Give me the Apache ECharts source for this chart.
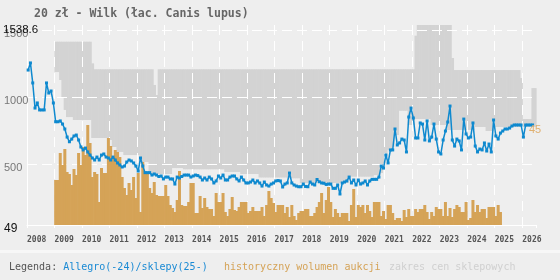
<!DOCTYPE html>
<html lang="pl">
<head>
<meta charset="utf-8">
<title>20 zł - Wilk</title>
<script src="https://cdn.jsdelivr.net/npm/echarts@6/dist/echarts.min.js"></script>
<style>
  html, body { margin: 0; padding: 0; background: #eeeeee; }
  #main { width: 560px; height: 280px; }
</style>
</head>
<body>
<div id="main"></div>
<script>
// ceny miesięczne (Allegro do 2024, sklepy od 2025), od 2008-01
var priceFrom = 2008;
var price = [
  1203, 1256, 1107, 920, 958, 906, 906, 906, 1107, 1032, 1047, 958,   // 2008
  818, 818, 824, 801, 764, 704, 669, 689, 712, 719, 682, 630,         // 2009
  608, 622, 593, 570, 548, 533, 555, 533, 570, 578, 555, 548,         // 2010
  533, 555, 533, 511, 496, 481, 488, 518, 533, 526, 511, 488,         // 2011
  451, 548, 488, 439, 439, 439, 421, 429, 421, 410, 414, 392,         // 2012
  406, 406, 392, 392, 354, 406, 399, 410, 421, 421, 421, 406,         // 2013
  414, 421, 417, 406, 384, 399, 384, 406, 392, 362, 377, 414,         // 2014
  399, 421, 384, 384, 406, 414, 414, 392, 377, 406, 384, 362,         // 2015
  362, 369, 384, 362, 377, 362, 339, 369, 347, 339, 354, 362,         // 2016
  377, 380, 377, 332, 354, 362, 436, 362, 347, 339, 334, 334,         // 2017
  354, 336, 334, 369, 354, 347, 388, 371, 362, 360, 351, 354,         // 2018
  354, 322, 322, 347, 280, 362, 369, 377, 406, 362, 384, 347,         // 2019
  384, 354, 362, 377, 347, 377, 389, 389, 389, 406, 488, 473,         // 2020
  570, 511, 608, 608, 764, 645, 660, 689, 682, 593, 853, 920,         // 2021
  846, 697, 697, 809, 801, 682, 824, 675, 704, 801, 689, 593,         // 2022
  578, 682, 749, 816, 935, 682, 637, 689, 675, 608, 838, 727,         // 2023
  697, 704, 809, 637, 593, 615, 608, 660, 600, 652, 593, 831,         // 2024
  712, 689, 734, 749, 764, 764, 771, 786, 794, 794, 794, 794,         // 2025
  704, 794, 794, 794, 794                                             // 2026
];

// wolumen aukcji, od 2009-01
var volumeFrom = 2009;
var volume = [
  45, 45, 72, 60, 76, 53, 51, 40, 56, 50, 72, 60,    // 2009
  78, 70, 100, 82, 48, 53, 51, 23, 57, 52, 52, 87,   // 2010
  79, 68, 75, 73, 68, 48, 37, 30, 42, 35, 48, 27,    // 2011
  52, 13, 63, 52, 52, 37, 32, 43, 30, 29, 29, 29,    // 2012
  40, 29, 20, 17, 13, 25, 54, 20, 19, 19, 23, 42,    // 2013
  42, 12, 12, 29, 17, 27, 18, 16, 16, 9, 32, 23,     // 2014
  23, 32, 13, 9, 16, 28, 15, 14, 18, 23, 23, 23,     // 2015
  12, 14, 18, 14, 14, 14, 18, 9, 20, 34, 27, 22,     // 2016
  13, 20, 20, 20, 12, 18, 8, 20, 9, 5, 12, 14,       // 2017
  14, 16, 16, 9, 9, 12, 18, 23, 32, 12, 25, 38,      // 2018
  23, 8, 16, 12, 8, 12, 12, 12, 4, 20, 36, 8,        // 2019
  20, 18, 20, 12, 20, 14, 8, 23, 23, 23, 9, 14,      // 2020
  6, 20, 20, 12, 5, 7, 7, 4, 15, 8, 16, 9,           // 2021
  9, 16, 13, 16, 16, 20, 13, 6, 13, 9, 18, 16,       // 2022
  16, 9, 23, 9, 17, 8, 16, 20, 18, 13, 13, 23,       // 2023
  5, 7, 25, 13, 20, 13, 16, 16, 7, 18, 18, 18,       // 2024
  9, 20, 13                                          // 2025
];

// zakres cen sklepowych (min / max), od 2009-01
var shopFrom = 2009;
var shopLow = [
  1188, 1188, 1129, 1002, 906, 853, 853, 853, 831, 831, 831, 831,   // 2009
  831, 831, 831, 831, 697, 697, 697, 697, 697, 697, 697, 682,       // 2010
  682, 630, 630, 593, 593, 593, 570, 570, 570, 570, 570, 570,       // 2011
  570, 518, 518, 518, 518, 429, 429, 429, 429, 429, 429, 429,       // 2012
  429, 429, 429, 473, 473, 473, 473, 473, 464, 464, 464, 464,       // 2013
  464, 464, 464, 464, 464, 464, 464, 464, 464, 464, 464, 464,       // 2014
  464, 464, 444, 444, 444, 444, 444, 444, 444, 429, 429, 429,       // 2015
  429, 429, 429, 429, 429, 403, 403, 403, 403, 403, 403, 403,       // 2016
  403, 403, 403, 403, 403, 403, 397, 397, 397, 397, 397, 362,       // 2017
  362, 362, 362, 362, 362, 362, 362, 362, 362, 362, 362, 362,       // 2018
  362, 362, 362, 362, 362, 362, 362, 362, 409, 409, 409, 409,       // 2019
  409, 409, 409, 409, 409, 409, 409, 421, 421, 421, 436, 511,       // 2020
  548, 608, 608, 632, 719, 719, 900, 900, 900, 900, 794, 794,       // 2021
  794, 838, 838, 838, 838, 838, 838, 838, 794, 794, 794, 794,       // 2022
  794, 794, 794, 757, 757, 757, 757, 757, 757, 757, 757, 757,       // 2023
  757, 757, 757, 779, 779, 779, 779, 779, 749, 749, 749, 749,       // 2024
  779, 779, 779, 779, 779, 779, 779, 779, 779, 779, 779, 779,       // 2025
  779, 779, 779, 779, 779, 779                                      // 2026
];
var shopHigh = [
  1414, 1414, 1414, 1414, 1414, 1414, 1414, 1414, 1414, 1414, 1414, 1414,   // 2009
  1414, 1414, 1414, 1414, 1253, 1209, 1209, 1209, 1209, 1209, 1209, 1209,   // 2010
  1209, 1209, 1209, 1209, 1209, 1209, 1209, 1209, 1209, 1209, 1209, 1209,   // 2011
  1209, 1209, 1209, 1209, 1209, 1209, 1209, 1092, 1017, 1209, 1209, 1209,   // 2012
  1209, 1209, 1209, 1209, 1209, 1209, 1209, 1209, 1209, 1209, 1209, 1209,   // 2013
  1209, 1209, 1209, 1209, 1209, 1209, 1209, 1209, 1209, 1209, 1209, 1209,   // 2014
  1209, 1209, 1209, 1209, 1209, 1209, 1209, 1209, 1209, 1209, 1209, 1209,   // 2015
  1209, 1209, 1209, 1209, 1209, 1209, 1209, 1209, 1209, 1209, 1209, 1209,   // 2016
  1209, 1209, 1209, 1209, 1209, 1209, 1209, 1209, 1209, 1209, 1209, 1209,   // 2017
  1209, 1209, 1209, 1209, 1209, 1209, 1209, 1209, 1209, 1209, 1209, 1209,   // 2018
  1209, 1209, 1209, 1209, 1209, 1209, 1209, 1209, 1209, 1209, 1209, 1209,   // 2019
  1209, 1209, 1209, 1209, 1209, 1209, 1209, 1209, 1209, 1209, 1209, 1209,   // 2020
  1209, 1209, 1209, 1209, 1209, 1209, 1209, 1209, 1209, 1209, 1209, 1209,   // 2021
  1209, 1459, 1538.6, 1538.6, 1538.6, 1538.6, 1538.6, 1538.6, 1538.6, 1538.6, 1538.6, 1538.6, // 2022
  1538.6, 1538.6, 1538.6, 1538.6, 1538.6, 1293, 1203, 1203, 1203, 1203, 1203, 1203,           // 2023
  1203, 1203, 1203, 1203, 1203, 1203, 1203, 1203, 1203, 1203, 1203, 1203,   // 2024
  1203, 1203, 1203, 1203, 1203, 1203, 1203, 1203, 1203, 1203, 1203, 1144,   // 2025
  838, 838, 838, 838, 1069, 1069                                            // 2026
];

var yMin = 49, yMax = 1538.6;
var yLabels = [49, 500, 1000, 1500];
var yGrid = [500, 1000, 1500];
var lastLabel = '45';

var blue = '#0e89cf', orange = '#d5a357', band = '#d3d3d3';
var mono = '"DejaVu Sans Mono", monospace';
var sans = '"Liberation Sans", sans-serif';

// miesiąc -> ułamek roku (off = 0.5 środek miesiąca)
function monthly(from, vals, off) {
  return vals.map(function (v, i) { return [from + (i + off) / 12, v]; });
}

var shopData = shopLow.map(function (lo, i) { return [shopFrom + i / 12, lo, shopHigh[i]]; });

var chart = echarts.init(document.getElementById('main'));
chart.setOption({
  animation: false,
  backgroundColor: '#eeeeee',
  title: {
    text: '20 zł - Wilk (łac. Canis lupus)',
    left: 29, top: 3,
    textStyle: { fontFamily: mono, fontWeight: 'bold', fontSize: 11.5, color: '#666' }
  },
  grid: { left: 25, right: 24, top: 25, bottom: 55 },
  xAxis: {
    type: 'value', min: 2008, max: 2026.5, interval: 1, z: 1.5,
    axisLine: { lineStyle: { color: '#fff', width: 1 } },
    axisTick: { show: true, length: 3, lineStyle: { color: '#fff' } },
    axisLabel: {
      align: 'left', margin: 11,
      fontFamily: mono, fontWeight: 'bold', fontSize: 8, color: '#555',
      formatter: function (v) { return Number.isInteger(v) ? String(v) : ''; }
    },
    splitLine: { show: true, showMinLine: false, showMaxLine: false,
      lineStyle: { color: '#fff', width: 1, type: [10, 6] } }
  },
  yAxis: [{
    type: 'value', min: yMin, max: yMax, z: 1.5,
    axisLine: { show: true, lineStyle: { color: '#fff', width: 1 } },
    axisTick: { show: false, customValues: yGrid },
    axisLabel: {
      customValues: yLabels, hideOverlap: false,
      align: 'left', margin: 23, padding: [7, 0, 0, 0],
      fontFamily: sans, fontSize: 11, color: '#777',
      formatter: function (v) {
        return v === yMin ? '{k|' + v + '}' : String(v);
      },
      rich: { k: { color: '#111', fontSize: 12, fontFamily: sans } }
    },
    splitLine: { show: true, showMinLine: true, showMaxLine: true,
      lineStyle: { color: '#fff', width: 1, type: [10, 5] } }
  }, {
    type: 'value', min: 0, max: 200, show: false, splitLine: { show: false }
  }, {
    // tylko etykieta maksimum osi cen
    type: 'value', min: yMin, max: yMax, position: 'left', z: 1.6,
    axisLine: { show: false }, axisTick: { show: false }, splitLine: { show: false },
    axisLabel: {
      customValues: [yMax], align: 'left', verticalAlign: 'top', lineHeight: 9, margin: 24,
      fontFamily: sans, fontSize: 11.5, color: '#111',
      formatter: function (v) { return String(v); }
    }
  }],
  series: [{
    type: 'custom', name: 'zakres cen sklepowych', data: shopData, z: 1, silent: true,
    encode: { x: 0, y: [1, 2] },
    renderItem: function (params, api) {
      var t = api.value(0);
      var a = api.coord([t, api.value(2)]);
      var b = api.coord([t + 1 / 12, api.value(1)]);
      return {
        type: 'rect',
        shape: { x: a[0], y: a[1], width: b[0] - a[0] + 0.6, height: b[1] - a[1] },
        style: { fill: band }
      };
    }
  }, {
    type: 'bar', name: 'historyczny wolumen aukcji', yAxisIndex: 1,
    data: monthly(volumeFrom, volume, 0.5),
    barWidth: 3, itemStyle: { color: orange }, z: 2
  }, {
    type: 'line', name: 'Allegro(-24)/sklepy(25-)',
    data: monthly(priceFrom, price, 0.5),
    symbol: 'rect', symbolSize: 3, showSymbol: true, showAllSymbol: true,
    lineStyle: { color: blue, width: 1.5 }, itemStyle: { color: blue }, z: 3
  }],
  graphic: [
    { type: 'rect', shape: { x: 0, y: 250, width: 560, height: 3 }, style: { fill: '#f7f7f7' } },
    { type: 'text', x: 529, y: 124, z: 10, style: { text: lastLabel, fill: '#e0b070', font: '11px ' + sans } },
    { type: 'text', x: 9, y: 262, style: {
      text: '{g|Legenda: }{b|Allegro(-24)/sklepy(25-)}',
      rich: {
        g: { fill: '#555', font: '10px ' + mono },
        b: { fill: '#1a8ad4', font: '10px ' + mono }
      } } },
    { type: 'text', x: 224, y: 262, style: { text: 'historyczny wolumen aukcji', fill: '#d5a357', font: '10px ' + mono } },
    { type: 'text', x: 389, y: 262, style: { text: 'zakres cen sklepowych', fill: '#d0d0d0', font: '10px ' + mono } }
  ]
});
</script>
</body>
</html>
